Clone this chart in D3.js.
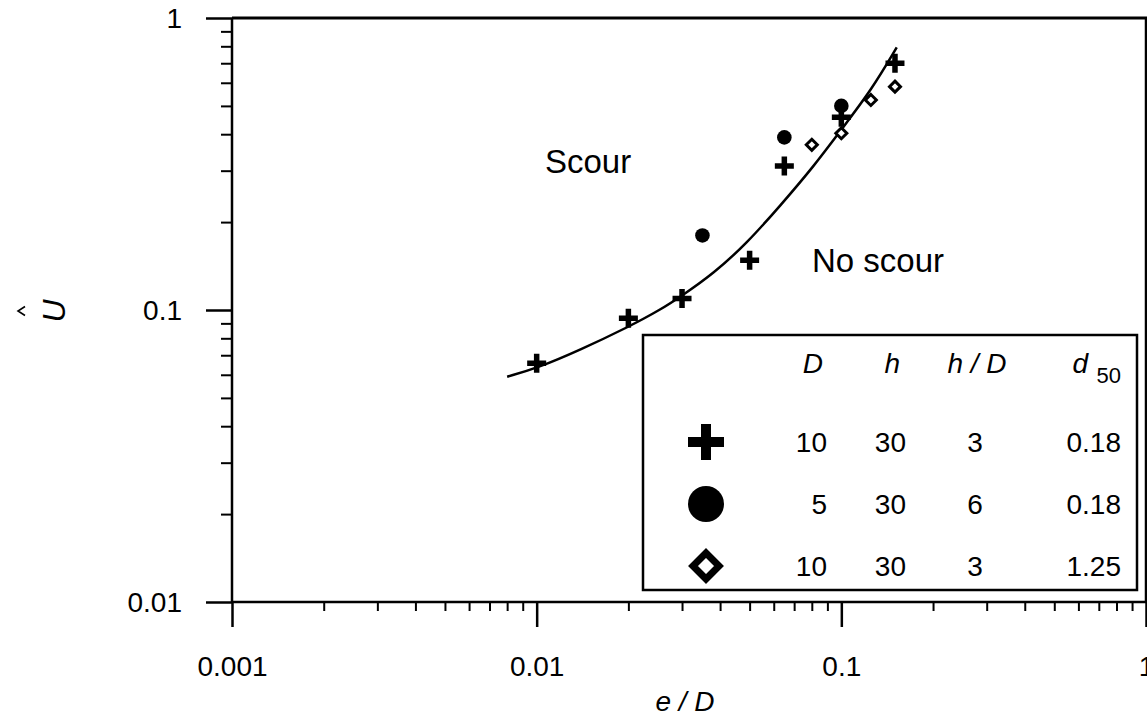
<!DOCTYPE html>
<html>
<head>
<meta charset="utf-8">
<script src="https://cdn.jsdelivr.net/npm/d3@7"></script>
<style>
  html, body { margin: 0; padding: 0; background: #fff; }
  svg { display: block; font-family: "Liberation Sans", Arial, sans-serif; }
</style>
</head>
<body>
<svg id="chart" width="1147" height="717"></svg>
<script>
// Threshold curve separating scour from no scour
const curveX = [0.008, 0.01, 0.0139, 0.0201, 0.0254, 0.0302, 0.0381, 0.0489, 0.0631, 0.0811, 0.1, 0.126, 0.152];
const curveY = [0.0591, 0.0631, 0.0730, 0.0877, 0.100, 0.1125, 0.1335, 0.169, 0.228, 0.310, 0.415, 0.570, 0.793];

// Measured points, one array pair per test series
const plusX = [0.01, 0.02, 0.03, 0.05, 0.065, 0.1, 0.15];
const plusY = [0.0657, 0.0937, 0.1096, 0.148, 0.311, 0.457, 0.70];
const circleX = [0.035, 0.065, 0.1];
const circleY = [0.18, 0.39, 0.50];
const diamondX = [0.08, 0.1, 0.125, 0.15];
const diamondY = [0.368, 0.403, 0.524, 0.582];

// Legend table
const legendSymbols = ["plus", "circle", "diamond"];
const legendD = ["10", "5", "10"];
const legendH = ["30", "30", "30"];
const legendHD = ["3", "6", "3"];
const legendD50 = ["0.18", "0.18", "1.25"];

// Axis ticks
const xMajor = [0.001, 0.01, 0.1, 1];
const xMajorLabels = ["0.001", "0.01", "0.1", "1"];
const yMajor = [0.01, 0.1, 1];
const yMajorLabels = ["0.01", "0.1", "1"];

const svg = d3.select("#chart");
const plotLeft = 232, plotRight = 1146, plotTop = 18, plotBottom = 602;

const x = d3.scaleLog().domain([0.001, 1]).range([plotLeft, plotRight]);
const y = d3.scaleLog().domain([0.01, 1]).range([plotBottom, plotTop]);

function minors(lo, hi) {
  const out = [];
  for (let d = lo; d < hi * 0.999; d *= 10) {
    for (let k = 2; k <= 9; k++) out.push(d * k);
  }
  return out;
}

// Minor ticks
const xMinorAxis = d3.axisBottom(x).tickValues(minors(0.001, 1)).tickSize(9).tickFormat("");
svg.append("g").attr("transform", `translate(0,${plotBottom})`).call(xMinorAxis)
  .call(g => g.select(".domain").remove())
  .call(g => g.selectAll("line").attr("stroke", "#000").attr("stroke-width", 2));

const yMinorAxis = d3.axisLeft(y).tickValues(minors(0.01, 1)).tickSize(11).tickFormat("");
svg.append("g").attr("transform", `translate(${plotLeft},0)`).call(yMinorAxis)
  .call(g => g.select(".domain").remove())
  .call(g => g.selectAll("line").attr("stroke", "#000").attr("stroke-width", 2));

// Major ticks with labels
const xAxis = d3.axisBottom(x).tickValues(xMajor).tickSize(25).tickSizeOuter(0)
  .tickFormat((d, i) => xMajorLabels[i]);
svg.append("g").attr("transform", `translate(0,${plotBottom})`).call(xAxis)
  .call(g => g.select(".domain").remove())
  .call(g => g.selectAll("line").attr("stroke", "#000").attr("stroke-width", 2.5))
  .call(g => g.selectAll("text").attr("fill", "#000").attr("font-size", 28)
    .attr("font-family", "Liberation Sans, Arial, sans-serif")
    .attr("dy", null).attr("y", 74));

const yAxis = d3.axisLeft(y).tickValues(yMajor).tickSize(26).tickSizeOuter(0)
  .tickFormat((d, i) => yMajorLabels[i]);
svg.append("g").attr("transform", `translate(${plotLeft},0)`).call(yAxis)
  .call(g => g.select(".domain").remove())
  .call(g => g.selectAll("line").attr("stroke", "#000").attr("stroke-width", 2.5))
  .call(g => g.selectAll("text").attr("fill", "#000").attr("font-size", 28)
    .attr("font-family", "Liberation Sans, Arial, sans-serif")
    .attr("x", -50).attr("dy", "0.35em"));

// Frame
svg.append("line").attr("x1", plotLeft).attr("x2", plotRight).attr("y1", plotBottom).attr("y2", plotBottom)
  .attr("stroke", "#000").attr("stroke-width", 2.5);
svg.append("line").attr("x1", plotLeft).attr("x2", plotLeft).attr("y1", plotTop).attr("y2", plotBottom)
  .attr("stroke", "#000").attr("stroke-width", 2.5);
svg.append("line").attr("x1", plotLeft).attr("x2", plotRight + 1).attr("y1", plotTop).attr("y2", plotTop)
  .attr("stroke", "#000").attr("stroke-width", 3);
svg.append("line").attr("x1", plotRight).attr("x2", plotRight).attr("y1", plotTop).attr("y2", plotBottom)
  .attr("stroke", "#000").attr("stroke-width", 2.5);

// Axis titles
svg.append("text").attr("x", 685).attr("y", 711).attr("text-anchor", "middle")
  .attr("font-size", 28).attr("font-style", "italic").text("e / D");

const yTitle = svg.append("g").attr("transform", "translate(65,311) rotate(-90)");
yTitle.append("text").attr("x", 0).attr("y", 0).attr("text-anchor", "middle")
  .attr("font-size", 32).attr("font-style", "italic").text("U");
yTitle.append("path").attr("d", "M-4.5,-40 L0,-47 L4.5,-40")
  .attr("fill", "none").attr("stroke", "#000").attr("stroke-width", 1.6);

// Region labels
svg.append("text").attr("x", 545).attr("y", 173).attr("font-size", 33).text("Scour");
svg.append("text").attr("x", 812).attr("y", 272).attr("font-size", 33).text("No scour");

// Threshold curve
const line = d3.line().x(d => x(d[0])).y(d => y(d[1])).curve(d3.curveBasis);
svg.append("path").datum(d3.zip(curveX, curveY)).attr("d", line)
  .attr("fill", "none").attr("stroke", "#000").attr("stroke-width", 2.5);

// Marker drawing helpers
function plusPath(s, t) {
  const a = s / 2, b = t / 2;
  return `M${-a},${-b}H${-b}V${-a}H${b}V${-b}H${a}V${b}H${b}V${a}H${-b}V${b}H${-a}Z`;
}
function drawMarker(g, type, cx, cy, big) {
  if (type === "plus") {
    g.append("path").attr("d", big ? plusPath(36, 10) : plusPath(19, 5.5))
      .attr("transform", `translate(${cx},${cy})`).attr("fill", "#000");
  } else if (type === "circle") {
    g.append("circle").attr("cx", cx).attr("cy", cy).attr("r", big ? 18 : 7.3).attr("fill", "#000");
  } else {
    const r = big ? 13 : 5.5;
    g.append("path").attr("d", `M0,${-r}L${r},0L0,${r}L${-r},0Z`)
      .attr("transform", `translate(${cx},${cy})`)
      .attr("fill", "#fff").attr("stroke", "#000").attr("stroke-width", big ? 7 : 3);
  }
}

const pts = svg.append("g");
d3.zip(plusX, plusY).forEach(d => drawMarker(pts, "plus", x(d[0]), y(d[1]), false));
d3.zip(circleX, circleY).forEach(d => drawMarker(pts, "circle", x(d[0]), y(d[1]), false));
d3.zip(diamondX, diamondY).forEach(d => drawMarker(pts, "diamond", x(d[0]), y(d[1]), false));

// Legend table
const lg = svg.append("g");
lg.append("rect").attr("x", 643).attr("y", 335).attr("width", 494).attr("height", 255)
  .attr("fill", "#fff").attr("stroke", "#000").attr("stroke-width", 2.5);
const hdr = 373;
lg.append("text").attr("x", 823).attr("y", hdr).attr("text-anchor", "end")
  .attr("font-size", 28).attr("font-style", "italic").text("D");
lg.append("text").attr("x", 900).attr("y", hdr).attr("text-anchor", "end")
  .attr("font-size", 28).attr("font-style", "italic").text("h");
lg.append("text").attr("x", 977).attr("y", hdr).attr("text-anchor", "middle")
  .attr("font-size", 28).attr("font-style", "italic").text("h / D");
lg.append("text").attr("x", 1088).attr("y", hdr).attr("text-anchor", "end")
  .attr("font-size", 28).attr("font-style", "italic").text("d");
lg.append("text").attr("x", 1121).attr("y", hdr + 10).attr("text-anchor", "end")
  .attr("font-size", 22).text("50");

const rowBase = [452, 514, 576];
legendSymbols.forEach((s, i) => {
  const b = rowBase[i];
  drawMarker(lg, s, 706, b - 10, true);
  lg.append("text").attr("x", 827).attr("y", b).attr("text-anchor", "end").attr("font-size", 28).text(legendD[i]);
  lg.append("text").attr("x", 906).attr("y", b).attr("text-anchor", "end").attr("font-size", 28).text(legendH[i]);
  lg.append("text").attr("x", 975).attr("y", b).attr("text-anchor", "middle").attr("font-size", 28).text(legendHD[i]);
  lg.append("text").attr("x", 1121).attr("y", b).attr("text-anchor", "end").attr("font-size", 28).text(legendD50[i]);
});
</script>
</body>
</html>
